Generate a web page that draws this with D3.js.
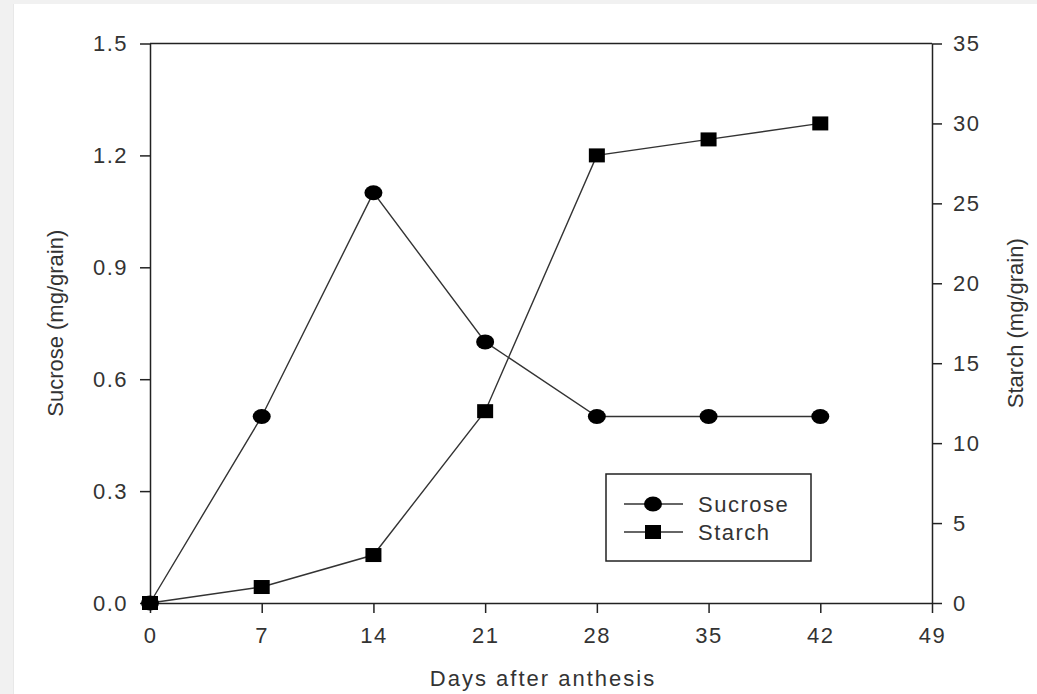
<!DOCTYPE html>
<html>
<head>
<meta charset="utf-8">
<script src="https://cdn.jsdelivr.net/npm/d3@7"></script>
<style>
  body { margin: 0; background: #f1f1f1; }
  svg { display: block; }
  text { font-family: "Liberation Sans", Arial, sans-serif; fill: #333; }
</style>
</head>
<body>
<svg id="chart" width="1037" height="694"></svg>
<script>
const days = [0, 7, 14, 21, 28, 35, 42]
const sucrose = [0, 0.5, 1.1, 0.7, 0.5, 0.5, 0.5]
const starch = [0, 1, 3, 12, 28, 29, 30]
const xTicks = [0, 7, 14, 21, 28, 35, 42, 49]
const leftTicks = [0, 0.3, 0.6, 0.9, 1.2, 1.5]
const rightTicks = [0, 5, 10, 15, 20, 25, 30, 35]
const seriesNames = ['Sucrose', 'Starch']

const svg = d3.select('#chart')
const W = 1037, H = 694
const plotL = 150, plotR = 932, plotT = 43.5, plotB = 603

// page panel
svg.append('rect').attr('width', W).attr('height', H).attr('fill', '#f1f1f1')
svg.append('rect').attr('x', 13).attr('y', 4).attr('width', W - 13).attr('height', H - 4).attr('fill', '#e8e8e8')
svg.append('rect').attr('x', 14).attr('y', 4).attr('width', W - 14).attr('height', H - 4).attr('fill', '#fff')

const x = d3.scaleLinear().domain([0, 49]).range([plotL, plotR])
const yL = d3.scaleLinear().domain([0, 1.5]).range([plotB, plotT])
const yR = d3.scaleLinear().domain([0, 35]).range([plotB, plotT])

const styleAxis = g => {
  g.select('.domain').attr('stroke', '#222').attr('stroke-width', 1.5)
  g.selectAll('.tick line').attr('stroke', '#222').attr('stroke-width', 1.5)
  g.selectAll('.tick text')
    .style('font-size', '22px')
    .style('letter-spacing', '1.5px')
    .style('font-family', '"Liberation Sans", Arial, sans-serif')
    .attr('fill', '#333')
}

svg.append('g')
  .attr('transform', `translate(0,${plotB})`)
  .call(d3.axisBottom(x).tickValues(xTicks).tickSize(10).tickPadding(14).tickSizeOuter(0))
  .call(styleAxis)

svg.append('g')
  .attr('transform', `translate(${plotL},0)`)
  .call(d3.axisLeft(yL).tickValues(leftTicks).tickFormat(d3.format('.1f')).tickSize(10).tickPadding(12).tickSizeOuter(0))
  .call(styleAxis)

svg.append('g')
  .attr('transform', `translate(${plotR},0)`)
  .call(d3.axisRight(yR).tickValues(rightTicks).tickSize(10).tickPadding(11).tickSizeOuter(0))
  .call(styleAxis)

// top frame line
svg.append('line')
  .attr('x1', plotL).attr('x2', plotR).attr('y1', plotT).attr('y2', plotT)
  .attr('stroke', '#222').attr('stroke-width', 1.5)

// axis titles
svg.append('text')
  .attr('x', 543).attr('y', 686)
  .attr('text-anchor', 'middle')
  .style('font-size', '22px').style('letter-spacing', '2px')
  .text('Days after anthesis')

svg.append('text')
  .attr('transform', `translate(63,${(plotT + plotB) / 2}) rotate(-90)`)
  .attr('text-anchor', 'middle')
  .style('font-size', '22px')
  .text('Sucrose (mg/grain)')

svg.append('text')
  .attr('transform', `translate(1023,${(plotT + plotB) / 2}) rotate(-90)`)
  .attr('text-anchor', 'middle')
  .style('font-size', '22px')
  .text('Starch (mg/grain)')

// data lines
const sucPts = days.map((d, i) => [x(d), yL(sucrose[i])])
const staPts = days.map((d, i) => [x(d), yR(starch[i])])
const line = d3.line()

svg.append('path').attr('d', line(sucPts))
  .attr('fill', 'none').attr('stroke', '#333').attr('stroke-width', 1.4)
svg.append('path').attr('d', line(staPts))
  .attr('fill', 'none').attr('stroke', '#333').attr('stroke-width', 1.4)

const drawCircle = (g, cx, cy) => g.append('ellipse')
  .attr('cx', cx).attr('cy', cy).attr('rx', 9).attr('ry', 7.5).attr('fill', '#000')
const drawSquare = (g, cx, cy) => g.append('rect')
  .attr('x', cx - 8).attr('y', cy - 7).attr('width', 16).attr('height', 14).attr('fill', '#000')

const marks = svg.append('g')
sucPts.forEach(p => drawCircle(marks, p[0], p[1]))
staPts.forEach(p => drawSquare(marks, p[0], p[1]))

// legend
const lg = svg.append('g')
lg.append('rect')
  .attr('x', 606).attr('y', 474).attr('width', 205).attr('height', 87)
  .attr('fill', '#fff').attr('stroke', '#222').attr('stroke-width', 1.5)

seriesNames.forEach((name, i) => {
  const cy = 504 + i * 28
  lg.append('line').attr('x1', 624).attr('x2', 683).attr('y1', cy).attr('y2', cy)
    .attr('stroke', '#333').attr('stroke-width', 1.4)
  if (i === 0) drawCircle(lg, 653, cy)
  else drawSquare(lg, 653, cy)
  lg.append('text')
    .attr('x', 698).attr('y', cy).attr('dy', '0.35em')
    .style('font-size', '22px').style('letter-spacing', '1.5px')
    .text(name)
})
</script>
</body>
</html>
